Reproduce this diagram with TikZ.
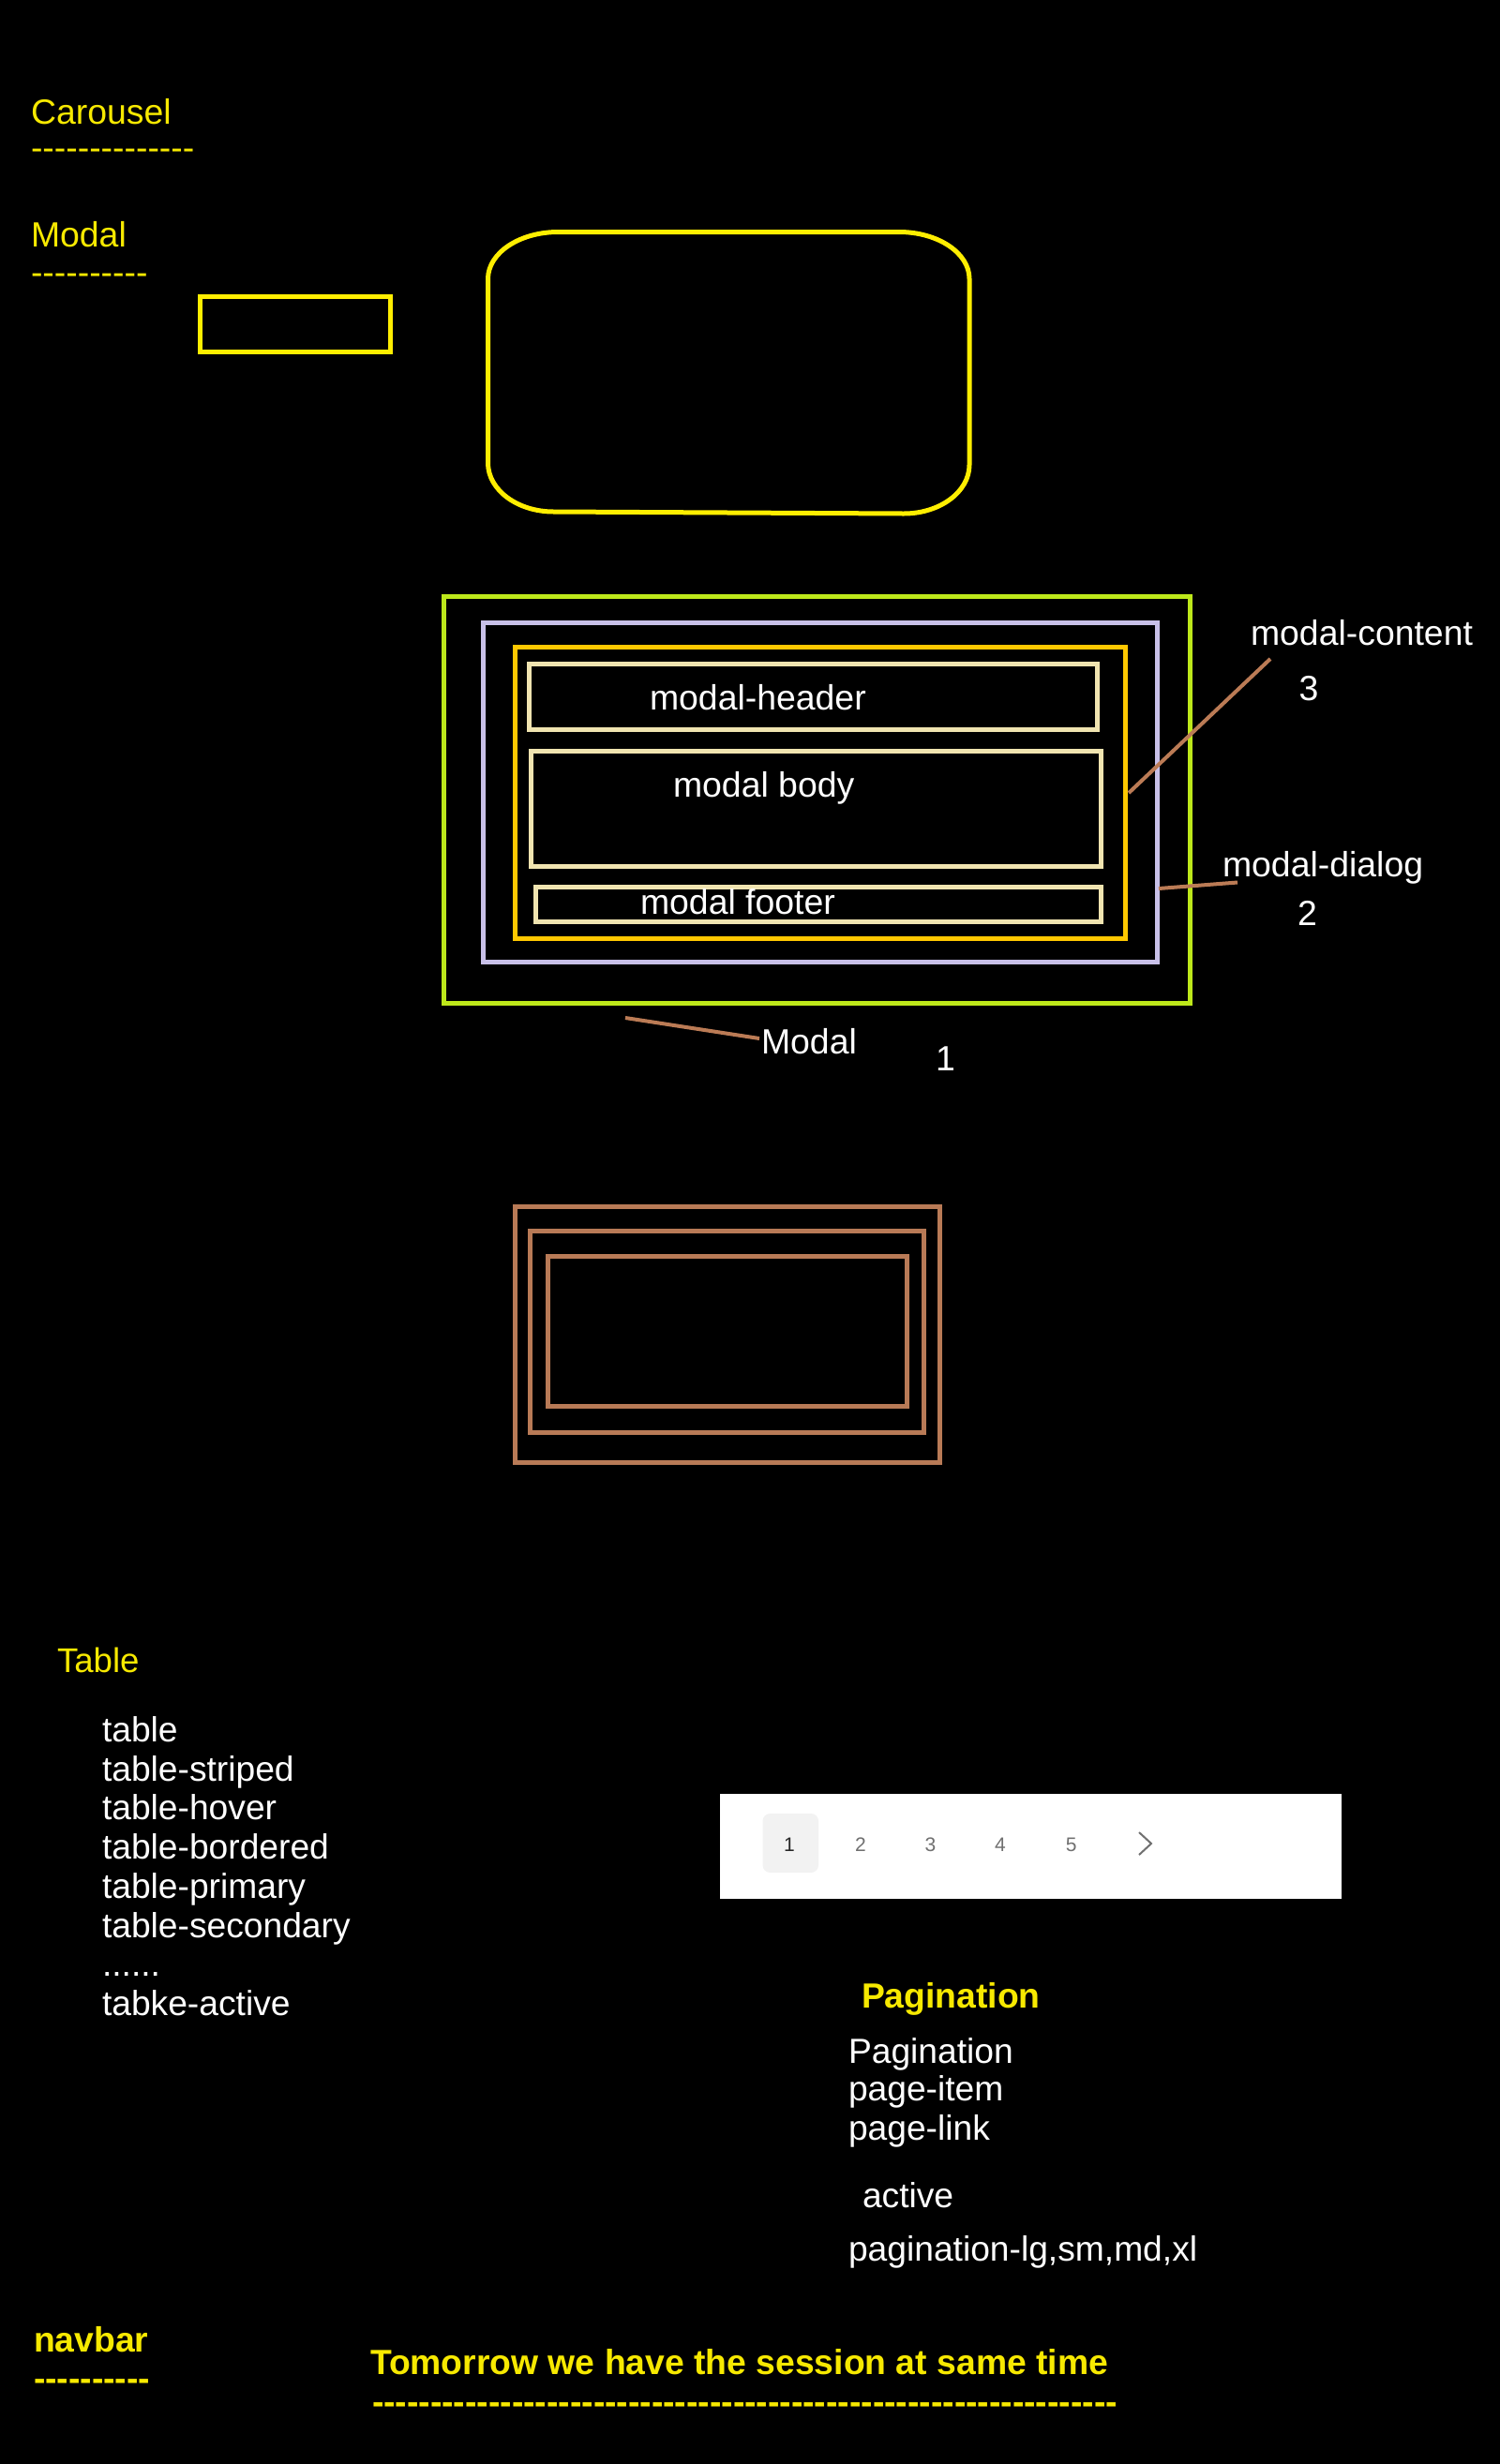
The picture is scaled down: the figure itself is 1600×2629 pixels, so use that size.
\documentclass[tikz,border=0pt]{standalone}
\usepackage{fontspec}
\setmainfont{Liberation Sans}
\definecolor{ytext}{HTML}{F7E900}
\definecolor{ybord}{HTML}{FFEE00}
\definecolor{grn}{HTML}{BDE81A}
\definecolor{lav}{HTML}{C8C0E8}
\definecolor{org}{HTML}{FFC800}
\definecolor{crm}{HTML}{F0E4B0}
\definecolor{brn}{HTML}{B87A56}
\definecolor{conn}{HTML}{BB7B55}
\definecolor{pgray}{HTML}{707070}
\definecolor{pbg}{HTML}{F2F2F2}
\newcommand\hyphrow[1]{\foreach \i in {1,...,#1}{-}}
\tikzset{
  lbl/.style={anchor=base west, inner sep=0pt, outer sep=0pt, font=\fontsize{37.4}{44}\selectfont},
  ylbl/.style={lbl, text=ytext},
  wlbl/.style={lbl, text=white},
  ybold/.style={lbl, text=ytext, font=\fontsize{37.3}{44}\selectfont\bfseries},
  tbl/.style={lbl, text=white, font=\fontsize{37.2}{44}\selectfont},
  box/.style={line width=5pt},
  conn/.style={draw=conn, line width=4pt},
  pgnum/.style={anchor=base, inner sep=0pt, text=pgray, font=\fontsize{21}{25}\selectfont},
}
\begin{document}
\begin{tikzpicture}[x=1pt,y=-1pt]
\fill[black] (0,0) rectangle (1600,2629);
\useasboundingbox (0,0) rectangle (1600,2629);

% headings
\node[ylbl] (carousel) at (33,132) {Carousel};
\node[ylbl] (carouseldash) at (33,170) {\hyphrow{14}};
\node[ylbl] (modalh) at (33,263) {Modal};
\node[ylbl] (modaldash) at (33,303) {\hyphrow{10}};

% small yellow rectangle and rounded rectangle
\draw[box, draw=ybord] (213.5,316.5) rectangle (416.5,375.5);
\draw[box, draw=ybord] (595.5,247.5) -- (959,247.5)
  arc[start angle=-90,end angle=0,x radius=75,y radius=50] -- (1034,496)
  arc[start angle=0,end angle=90,x radius=70,y radius=52] -- (590.5,546)
  arc[start angle=90,end angle=180,x radius=70,y radius=52] -- (520.5,297.5)
  arc[start angle=180,end angle=270,x radius=75,y radius=50] -- cycle;

% modal structure
\draw[box, draw=grn] (473.5,636.5) rectangle (1269.5,1070.5);
\draw[box, draw=lav] (515.5,664.5) rectangle (1234.3,1026);
\draw[box, draw=org] (549.5,690.5) rectangle (1200.5,1001.5);
\draw[box, draw=crm] (564.3,708.9) rectangle (1170.2,778.5);
\draw[box, draw=crm] (566.5,801) rectangle (1174,924.3);
\draw[box, draw=crm] (571.5,946.5) rectangle (1174,983);

\node[wlbl] (mheader) at (693,757) {modal-header};
\node[wlbl] (mbody) at (718,850) {modal body};
\node[wlbl] (mfooter) at (683,975) {modal footer};
\node[wlbl] (mcontent) at (1334,688) {modal-content};
\node[wlbl] (n3) at (1385.5,747) {3};
\node[wlbl] (mdialog) at (1304,935) {modal-dialog};
\node[wlbl] (n2) at (1384,987) {2};
\node[wlbl] (mmodal) at (812,1124) {Modal};
\node[wlbl] (n1) at (998,1142) {1};

\coordinate (c1a) at (1355,703);
\coordinate (c1b) at (1204,846);
\coordinate (c2a) at (1236,948);
\coordinate (c2b) at (1320,941.5);
\coordinate (c3a) at (667,1086);
\coordinate (c3b) at (810,1108);
\draw[conn] (c1a) -- (c1b);
\draw[conn] (c2a) -- (c2b);
\draw[conn] (c3a) -- (c3b);

% brown nested rectangles
\draw[box, draw=brn] (549.5,1287.5) rectangle (1002.5,1560.5);
\draw[box, draw=brn] (565.5,1313.5) rectangle (985.5,1528.5);
\draw[box, draw=brn] (584.5,1340.5) rectangle (967.5,1500.5);

% table
\node[ylbl, font=\fontsize{36.6}{44}\selectfont] (tableh) at (61,1784) {Table};
\node[tbl] (t1) at (109,1858) {table};
\node[tbl] (t2) at (109,1900) {table-striped};
\node[tbl] (t3) at (109,1941.7) {table-hover};
\node[tbl] (t4) at (109,1983) {table-bordered};
\node[tbl] (t5) at (109,2025) {table-primary};
\node[tbl] (t6) at (109,2067) {table-secondary};
\node[tbl] (t7) at (109,2108) {......};
\node[tbl] (t8) at (109,2150) {tabke-active};

% pagination widget
\fill[white] (768,1914) rectangle (1431,2026);
\fill[pbg, rounded corners=8pt] (813.5,1935) rectangle (873,1998);
\node[pgnum, text=black!85] (p1) at (842,1975) {1};
\node[pgnum] (p2) at (918,1975) {2};
\node[pgnum] (p3) at (992.5,1975) {3};
\node[pgnum] (p4) at (1067,1975) {4};
\node[pgnum] (p5) at (1142.7,1975) {5};
\coordinate (chA) at (1215,1955);
\coordinate (chB) at (1228,1967);
\coordinate (chC) at (1215,1979);
\draw[pgray, line width=2pt] (chA) -- (chB) -- (chC);

% pagination text
\node[ybold] (pagh) at (919,2142) {Pagination};
\node[tbl] (pg1) at (905,2201) {Pagination};
\node[tbl] (pg2) at (905,2241) {page-item};
\node[tbl] (pg3) at (905,2283) {page-link};
\node[tbl] (pg4) at (920,2355) {active};
\node[tbl] (pg5) at (905,2412) {pagination-lg,sm,md,xl};

% bottom
\node[ybold] (navbar) at (36,2509) {navbar};
\node[ybold] (navdash) at (36,2550) {\hyphrow{10}};
\node[ybold] (tomorrow) at (395,2533) {Tomorrow we have the session at same time};
\node[ybold] (tomdash) at (397,2575) {\hyphrow{64}};
\end{tikzpicture}
\end{document}
